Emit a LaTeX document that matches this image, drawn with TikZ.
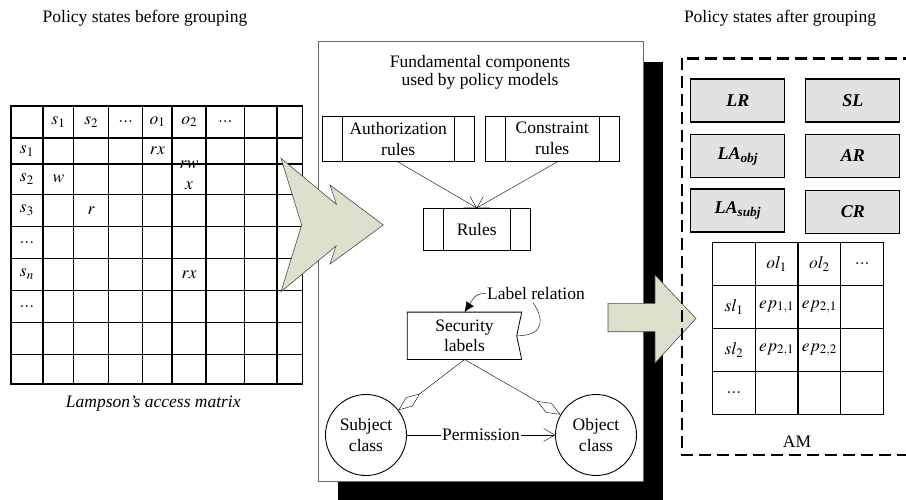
\documentclass[tikz,border=0pt]{standalone}
\usepackage{amsmath}
\usepackage{mathptmx}
\usepackage{fontspec}
\setmainfont{Liberation Serif}
\usetikzlibrary{matrix,arrows.meta,shadows}

\definecolor{arrowfill}{RGB}{221,224,204}
\definecolor{groupfill}{RGB}{226,226,226}

\tikzset{
  rulebox/.style={draw,line width=0.8pt,minimum height=45pt,align=center,inner sep=0pt,
    path picture={\draw[line width=0.8pt] ([xshift=20pt]path picture bounding box.north west) -- ([xshift=20pt]path picture bounding box.south west)
      ([xshift=-20pt]path picture bounding box.north east) -- ([xshift=-20pt]path picture bounding box.south east);}},
  groupbox/.style={draw,line width=1.2pt,fill=groupfill,minimum width=94pt,minimum height=43pt,
    font=\fontsize{18}{20}\selectfont\bfseries\itshape},
  classnode/.style={draw,circle,line width=0.9pt,minimum size=81pt,inner sep=0pt,align=center},
  barb/.style={-{Straight Barb[length=11pt,width=13pt]}},
  hollow/.style={-{Diamond[open,length=27pt,width=11pt]}},
  bigarrow/.style={fill=arrowfill,draw=black!70,line width=0.6pt},
  gridcells/.style={matrix of math nodes,nodes in empty cells,anchor=north west,inner sep=0pt,
    column sep=-1.3pt,row sep=-1.3pt,
    nodes={draw,line width=1.3pt,anchor=center,inner sep=0pt}}
}

\begin{document}
\begin{tikzpicture}[x=1pt,y=-1pt,font=\fontsize{17.5}{20.5}\selectfont]
    \useasboundingbox (0,0) rectangle (906,499);
    \node (before) at (145,18) {Policy states before grouping};
    \node (after) at (780,18) {Policy states after grouping};

    \matrix (acc) [gridcells,nodes={minimum width=32pt,minimum height=32pt},
      column 2/.style={nodes={minimum width=31pt}},
      column 3/.style={nodes={minimum width=34.7pt}},
      column 4/.style={nodes={minimum width=34.3pt}},
      column 5/.style={nodes={minimum width=29.3pt}},
      column 6/.style={nodes={minimum width=34pt}},
      column 7/.style={nodes={minimum width=38.3pt}},
      column 8/.style={nodes={minimum width=32.7pt}},
      column 9/.style={nodes={minimum width=25.7pt}},
      row 2/.style={nodes={minimum height=26.2pt}},
      row 3/.style={nodes={minimum height=30.3pt}},
      row 9/.style={nodes={minimum height=29.5pt}}] at (10,105) {
        & s_1 & s_2 & ... & o_1 & o_2 & ... & & \\
    s_1 & & & & rx & & & & \\
    s_2 & w & & & & \smash{\begin{array}{@{}c@{}}rw\\ x\end{array}} & & & \\
    s_3 & & r & & & & & & \\
    ... & & & & & & & & \\
    s_n & & & & & rx & & & \\
    ... & & & & & & & & \\
        & & & & & & & & \\
        & & & & & & & & \\
    };
    \node (lampson) at (153.3,403.3) {\itshape Lampson’s access matrix};

    \node (fund) [draw=black!60,line width=0.8pt,fill=white,minimum width=325pt,minimum height=440pt,
      drop shadow={shadow xshift=20pt,shadow yshift=-20pt,fill=black,opacity=1}] at (480.5,261.7) {};
    \node (fundtitle) [align=center,font=\fontsize{17.5}{18}\selectfont] at (480,72) {Fundamental components\\used by policy models};
    \node (auth) [rulebox,minimum width=151.7pt] at (398.2,139.2) {Authorization\\rules};
    \node (cons) [rulebox,minimum width=134.3pt] at (552.2,138.5) {Constraint\\rules};
    \node (rules) [rulebox,minimum width=106.7pt,minimum height=42.4pt] at (476.7,229.5) {Rules};
    \draw[barb] (auth.south) -- (rules.north);
    \draw[barb] ([xshift=6pt]cons.south) -- (rules.north);

    \node (seclab) [minimum width=114pt,minimum height=47pt,align=center,inner sep=0pt] at (464.5,335.8) {Security\\labels};
    \draw[line width=0.8pt] (seclab.north west) -- (seclab.north east) -- ([xshift=-5pt]seclab.east)
      -- (seclab.south east) -- (seclab.south west) -- cycle;
    \node (labrel) [inner sep=1pt] at (536,293.3) {Label relation};
    \draw[-{Latex[length=10pt,width=9pt]}] (labrel.west) .. controls +(-12,0) and +(8,-12) .. (seclab.north);
    \draw ([xshift=-5pt]seclab.east) .. controls +(30,0) and +(10,14) .. ([xshift=-3pt,yshift=-2pt]labrel.south);

    \node (subj) [classnode] at (366,435) {Subject\\class};
    \node (obj) [classnode] at (596,435) {Object\\class};
    \draw[hollow] (seclab.south) -- (subj);
    \draw[hollow] (seclab.south) -- (obj);
    \draw[barb] (subj) -- node[fill=white,inner sep=1pt] {Permission} (obj);

    \draw[bigarrow] (281,158.3) -- (336.5,204.5) -- (330,185) -- (383.3,225) -- (330,264)
      -- (336,246) -- (281,291.7) -- (301.7,225) -- cycle;
    \draw[bigarrow] (608,303.3) -- (655,303.3) -- (655,275) -- (696,318.5) -- (655,363)
      -- (655,331.7) -- (608,331.7) -- cycle;

    \draw[line width=2.5pt,dash pattern=on 12pt off 6pt] (682,58.3) rectangle (915,455);
    \node (lr) [groupbox] at (737.8,100.5) {LR};
    \node (sl) [groupbox] at (852.8,100.5) {SL};
    \node (laobj) [groupbox] at (737.8,156) {LA\textsubscript{obj}};
    \node (ar) [groupbox] at (852.8,156) {AR};
    \node (lasubj) [groupbox] at (737.8,210.5) {LA\textsubscript{subj}};
    \node (cr) [groupbox] at (852.8,212) {CR};

    \matrix (am) [gridcells,nodes={minimum width=42.75pt,minimum height=42.9pt}] at (711.7,241.7) {
        & ol_1 & ol_2 & ... \\
    sl_1 & ep_{1,1} & ep_{2,1} & \\
    sl_2 & ep_{2,1} & ep_{2,2} & \\
    ... & & & \\
    };
    \node (amlabel) at (797,441.7) {AM};
\end{tikzpicture}
\end{document}
